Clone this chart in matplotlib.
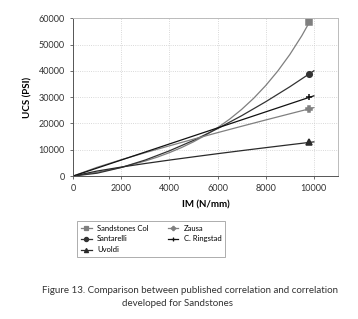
import matplotlib
matplotlib.use("Agg")
import matplotlib.pyplot as plt

plt.rcParams['font.family'] = ['Lato', 'DejaVu Sans']

# trendline samples (IM in N/mm, UCS in PSI)
im = [0, 1000, 2000, 3000, 4000, 5000, 6000, 7000, 8000, 9000, 10000]
santarelli = [0, 1100, 3250, 6110, 9590, 13560, 18030, 22940, 28250, 33930, 40000]
uvoldi = [0, 1920, 3420, 4790, 6080, 7310, 8510, 9670, 10800, 11910, 13000]
zausa = [0, 3350, 6210, 8900, 11500, 14030, 16500, 18930, 21320, 23670, 26000]
ringstad = [0, 3050, 6100, 9150, 12200, 15250, 18300, 21350, 24400, 27450, 30500]

# the steep curve is read at finer steps
im_fine = [0, 1000, 2000, 3000, 3500, 4000, 4500, 5000, 5500, 6000, 6500,
           7000, 7500, 8000, 8500, 9000, 9500, 10000]
sandstones_col = [0, 1435, 3300, 5730, 7210, 8900, 10820, 13010, 15510, 18370,
                  21620, 25330, 29560, 34400, 39900, 46170, 53340, 61500]

# data point marked near the end of each line
im_point = 9800
point_vals = [58600, 38700, 12800, 25500, 29900]

names = ['Sandstones Col', 'Santarelli', 'Uvoldi', 'Zausa', 'C. Ringstad']
xs = [im_fine, im, im, im, im]
series = [sandstones_col, santarelli, uvoldi, zausa, ringstad]
colors = ['#7f7f7f', '#333333', '#2a2a2a', '#808080', '#111111']
markers = ['s', 'o', '^', 'P', '+']
msizes = [4, 4, 4, 4, 5]

fig = plt.figure(figsize=(3.58, 3.19), dpi=100)
ax = fig.add_axes([0.204, 0.448, 0.74, 0.495])

for name, x, ys, c, m, ms, pv in zip(names, xs, series, colors, markers, msizes, point_vals):
    ax.plot(x, ys, color=c, lw=0.9)
    ax.plot([im_point], [pv], color=c, marker=m, ms=ms, mew=1.1, ls='none')
    ax.plot([], [], color=c, lw=0.9, marker=m, ms=3, mew=0.9, label=name)

ax.set_xlim(0, 11000)
ax.set_ylim(0, 60000)
ax.set_xticks([0, 2000, 4000, 6000, 8000, 10000])
ax.set_yticks([0, 10000, 20000, 30000, 40000, 50000, 60000])
ax.grid(True, color='#cccccc', ls=':', lw=0.6)
ax.tick_params(labelsize=6.5, colors='#333333', length=2.5, width=0.5)
for s in ['left', 'bottom']:
    ax.spines[s].set_color('#555555')
    ax.spines[s].set_linewidth(0.7)
for s in ['top', 'right']:
    ax.spines[s].set_color('#bbbbbb')
    ax.spines[s].set_linewidth(0.7)

ax.set_ylabel('UCS (PSI)', fontsize=7, fontweight='bold', labelpad=4)
ax.set_xlabel('IM (N/mm)', fontsize=7, fontweight='bold', labelpad=5)

leg = fig.legend(loc='upper left', bbox_to_anchor=(0.205, 0.32), ncol=2,
                 fontsize=5.5, frameon=True, fancybox=False, edgecolor='#888888',
                 handlelength=1.4, columnspacing=2.5, labelspacing=0.5,
                 borderpad=0.5, handletextpad=0.7)
leg.get_frame().set_linewidth(0.6)

fig.text(0.53, 0.09, 'Figure 13. Comparison between published correlation and correlation',
         ha='center', va='center', fontsize=7, color='#333333')
fig.text(0.495, 0.048, 'developed for Sandstones',
         ha='center', va='center', fontsize=7, color='#333333')

fig.savefig('out.png', dpi=100)
